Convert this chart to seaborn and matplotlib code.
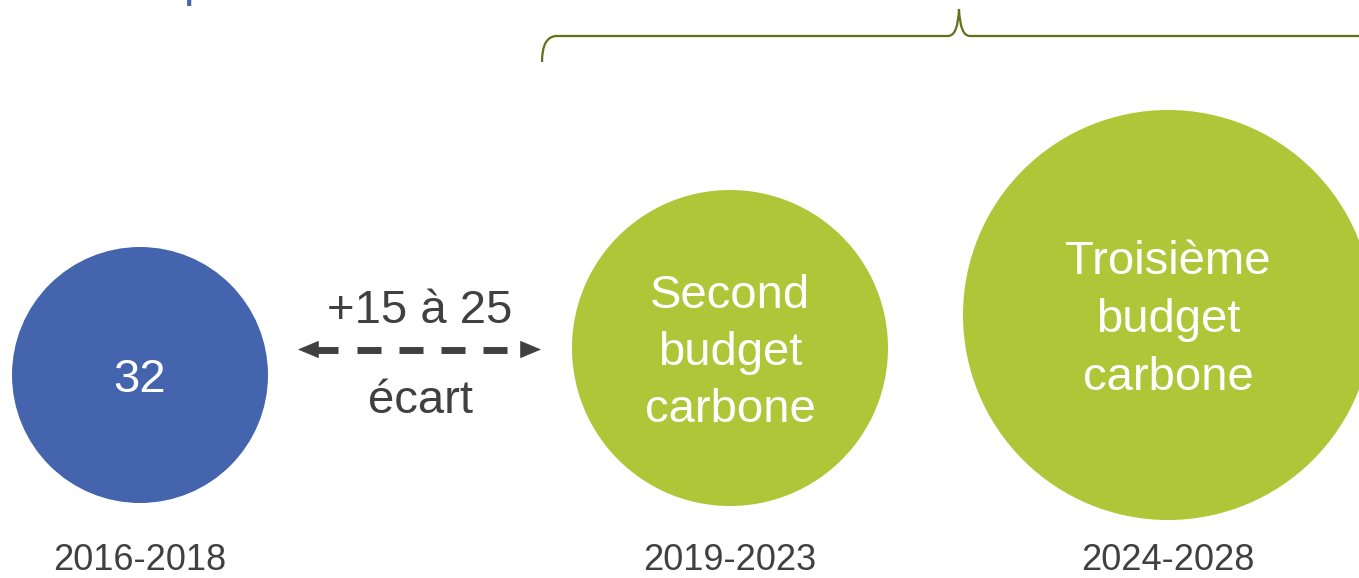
import numpy as np
import pandas as pd
import matplotlib
matplotlib.use("Agg")
import matplotlib.pyplot as plt
import seaborn as sns
from matplotlib.path import Path
from matplotlib.patches import PathPatch

# Data
periods = ["2016-2018", "2019-2023", "2024-2028"]
bubble_text = [["32"], ["Second", "budget", "carbone"], ["Troisième", "budget", "carbone"]]
gap_top = "+15 à 25"
gap_bottom = "écart"

# Layout (pixels, figure is 1359x578 at dpi 100)
cx = [140, 730, 1168]
cy = [375, 348, 315]
radius = [128, 158, 205]
blue = "#4464AD"
green = "#AEC637"
grey = "#404040"
olive = "#5F7219"

sns.set_theme(style="white")
plt.rcParams["font.family"] = ["Liberation Sans", "DejaVu Sans"]

fig = plt.figure(figsize=(13.59, 5.78), dpi=100)
ax = fig.add_axes([0, 0, 1, 1])
ax.set_xlim(0, 1359)
ax.set_ylim(578, 0)
ax.axis("off")

df = pd.DataFrame({"period": periods, "x": cx, "y": cy})
sizes = {p: (2 * r * 72 / 100) ** 2 for p, r in zip(periods, radius)}
palette = dict(zip(periods, [blue, green, green]))
sns.scatterplot(data=df, x="x", y="y", hue="period", size="period",
                sizes=sizes, palette=palette, linewidth=0, legend=False,
                ax=ax, zorder=2)

# texts inside bubbles
for i, lines in enumerate(bubble_text):
    n = len(lines)
    step = 57.5
    base0 = cy[i] + 17 - step * (n - 1) / 2
    for j, line in enumerate(lines):
        ax.text(cx[i], base0 + j * step, line, ha="center", va="baseline",
                fontsize=34, color="white", zorder=3)

# period labels
for x, p in zip(cx, periods):
    ax.text(x, 570, p, ha="center", va="baseline", fontsize=26, color=grey)

# gap annotation
ax.text(420, 323, gap_top, ha="center", va="baseline", fontsize=34, color=grey)
ax.text(420, 413, gap_bottom, ha="center", va="baseline", fontsize=34, color=grey)
ay = 349.5
ax.plot([357, 508], [ay, ay], color=grey, lw=5, solid_capstyle="butt",
        dashes=(24 * 0.72 / 5, 18 * 0.72 / 5))
ax.plot([312, 338], [ay, ay], color=grey, lw=5, solid_capstyle="butt")
head = dict(arrowstyle="-|>,head_length=1,head_width=0.42", mutation_scale=14,
            color=grey, lw=0.5, shrinkA=0, shrinkB=0)
ax.annotate("", xy=(298, ay), xytext=(318, ay), arrowprops=head)
ax.annotate("", xy=(541, ay), xytext=(521, ay), arrowprops=head)

# brace over the budgets
verts = [(542, 62), (542, 37), (556, 36),
         (948, 36),
         (958, 36), (959, 9),
         (960, 36), (970, 36),
         (1365, 36)]
codes = [Path.MOVETO, Path.CURVE3, Path.CURVE3,
         Path.LINETO,
         Path.CURVE3, Path.CURVE3,
         Path.CURVE3, Path.CURVE3,
         Path.LINETO]
ax.add_patch(PathPatch(Path(verts, codes), fill=False, edgecolor=olive, lw=1.6))

# clipped title glyph at the top edge
ax.text(183, -4, "p", ha="left", va="baseline", fontsize=34, color=blue,
        clip_on=True)

fig.savefig("out.png", dpi=100)
